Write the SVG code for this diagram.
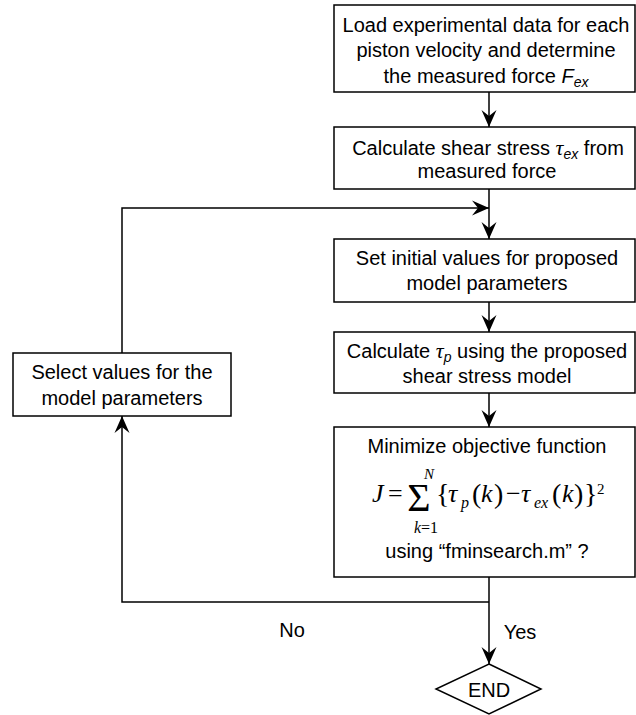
<svg xmlns="http://www.w3.org/2000/svg" width="636" height="715" viewBox="0 0 636 715">
<style>
.box{fill:#fff;stroke:#000;stroke-width:1.5}
.t{font-family:"Liberation Sans",Arial,sans-serif;font-size:20px;fill:#000;text-anchor:middle}
.sub{font-size:14px;font-style:italic}
.m{font-family:"Liberation Serif","Times New Roman",serif;font-size:26px;fill:#000}
.mi{font-style:italic}
.ms{font-size:16px}
.mxs{font-size:15px}
.big{font-size:40px}
.dl{font-size:28px}
.tau{font-family:"Liberation Serif","Times New Roman",serif;font-style:italic;font-size:22px}
.c{fill:none;stroke:#000;stroke-width:1.5}
</style>
<defs>
<marker id="arr" viewBox="-18 -8 19 16" refX="0" refY="0" markerWidth="19" markerHeight="16" markerUnits="userSpaceOnUse" orient="auto">
<path d="M0,0 L-17,-7.5 L-11,0 L-17,7.5 Z" fill="#000"/>
</marker>
</defs>
<g id="connectors">
<line class="c" x1="489" y1="92" x2="489" y2="127" marker-end="url(#arr)"/>
<line class="c" x1="489" y1="189" x2="489" y2="239" marker-end="url(#arr)"/>
<polyline class="c" points="122,353 122,208 489,208" marker-end="url(#arr)"/>
<line class="c" x1="489" y1="302" x2="489" y2="332" marker-end="url(#arr)"/>
<line class="c" x1="489" y1="393" x2="489" y2="427" marker-end="url(#arr)"/>
<line class="c" x1="489" y1="577" x2="489" y2="664" marker-end="url(#arr)"/>
<polyline class="c" points="489,602 122,602 122,416" marker-end="url(#arr)"/>
<text class="t" x="292" y="637">No</text>
<text class="t" x="520" y="639">Yes</text>
</g>
<g id="n1">
<rect class="box" x="334" y="5" width="301" height="87"/>
<text class="t" x="486" y="32">Load experimental data for each</text>
<text class="t" x="486" y="57">piston velocity and determine</text>
<text class="t" x="486" y="83">the measured force <tspan font-style="italic">F</tspan><tspan class="sub" dy="4">ex</tspan></text>
</g>
<g id="n2">
<rect class="box" x="334" y="127" width="301" height="62"/>
<text class="t" x="488" y="155">Calculate shear stress <tspan class="tau">τ</tspan><tspan class="sub" dy="4">ex</tspan><tspan dy="-4"> from</tspan></text>
<text class="t" x="487" y="178">measured force</text>
</g>
<g id="n3">
<rect class="box" x="334" y="239" width="301" height="63"/>
<text class="t" x="487" y="265">Set initial values for proposed</text>
<text class="t" x="487" y="290">model parameters</text>
</g>
<g id="n4">
<rect class="box" x="334" y="332" width="301" height="61"/>
<text class="t" x="487" y="358">Calculate <tspan class="tau">τ</tspan><tspan class="sub" dy="4">p</tspan><tspan dy="-4"> using the proposed</tspan></text>
<text class="t" x="487" y="383">shear stress model</text>
</g>
<g id="n5">
<rect class="box" x="334" y="427" width="301" height="150"/>
<text class="t" x="487" y="453">Minimize objective function</text>
<text class="m mi" x="372" y="502">J</text>
<text class="m" x="388" y="502">=</text>
<text class="m big" x="419" y="511" text-anchor="middle">Σ</text>
<text class="m mi mxs" x="429" y="479" text-anchor="middle">N</text>
<text class="m ms" x="426" y="533" text-anchor="middle"><tspan class="mi">k</tspan>=1</text>
<text class="m dl" x="436" y="503">{</text>
<text class="m mi" x="448" y="502">τ</text>
<text class="m mi ms" x="461" y="508">p</text>
<text class="m dl" x="472" y="503">(</text>
<text class="m mi" x="481" y="502">k</text>
<text class="m dl" x="494" y="503">)</text>
<text class="m" x="506" y="502">−</text>
<text class="m mi" x="521" y="502">τ</text>
<text class="m mi ms" x="534" y="508">ex</text>
<text class="m dl" x="552" y="503">(</text>
<text class="m mi" x="562" y="502">k</text>
<text class="m dl" x="574" y="503">)</text>
<text class="m dl" x="584" y="503">}</text>
<text class="m mxs" x="597" y="494">2</text>
<text class="t" x="487" y="558">using “fminsearch.m” ?</text>
</g>
<g id="n6">
<rect class="box" x="13" y="353" width="218" height="63"/>
<text class="t" x="122" y="379">Select values for the</text>
<text class="t" x="122" y="405">model parameters</text>
</g>
<g id="end">
<polygon class="box" points="489,664 541,689 489,714 436,689"/>
<text class="t" x="489" y="697">END</text>
</g>
</svg>
